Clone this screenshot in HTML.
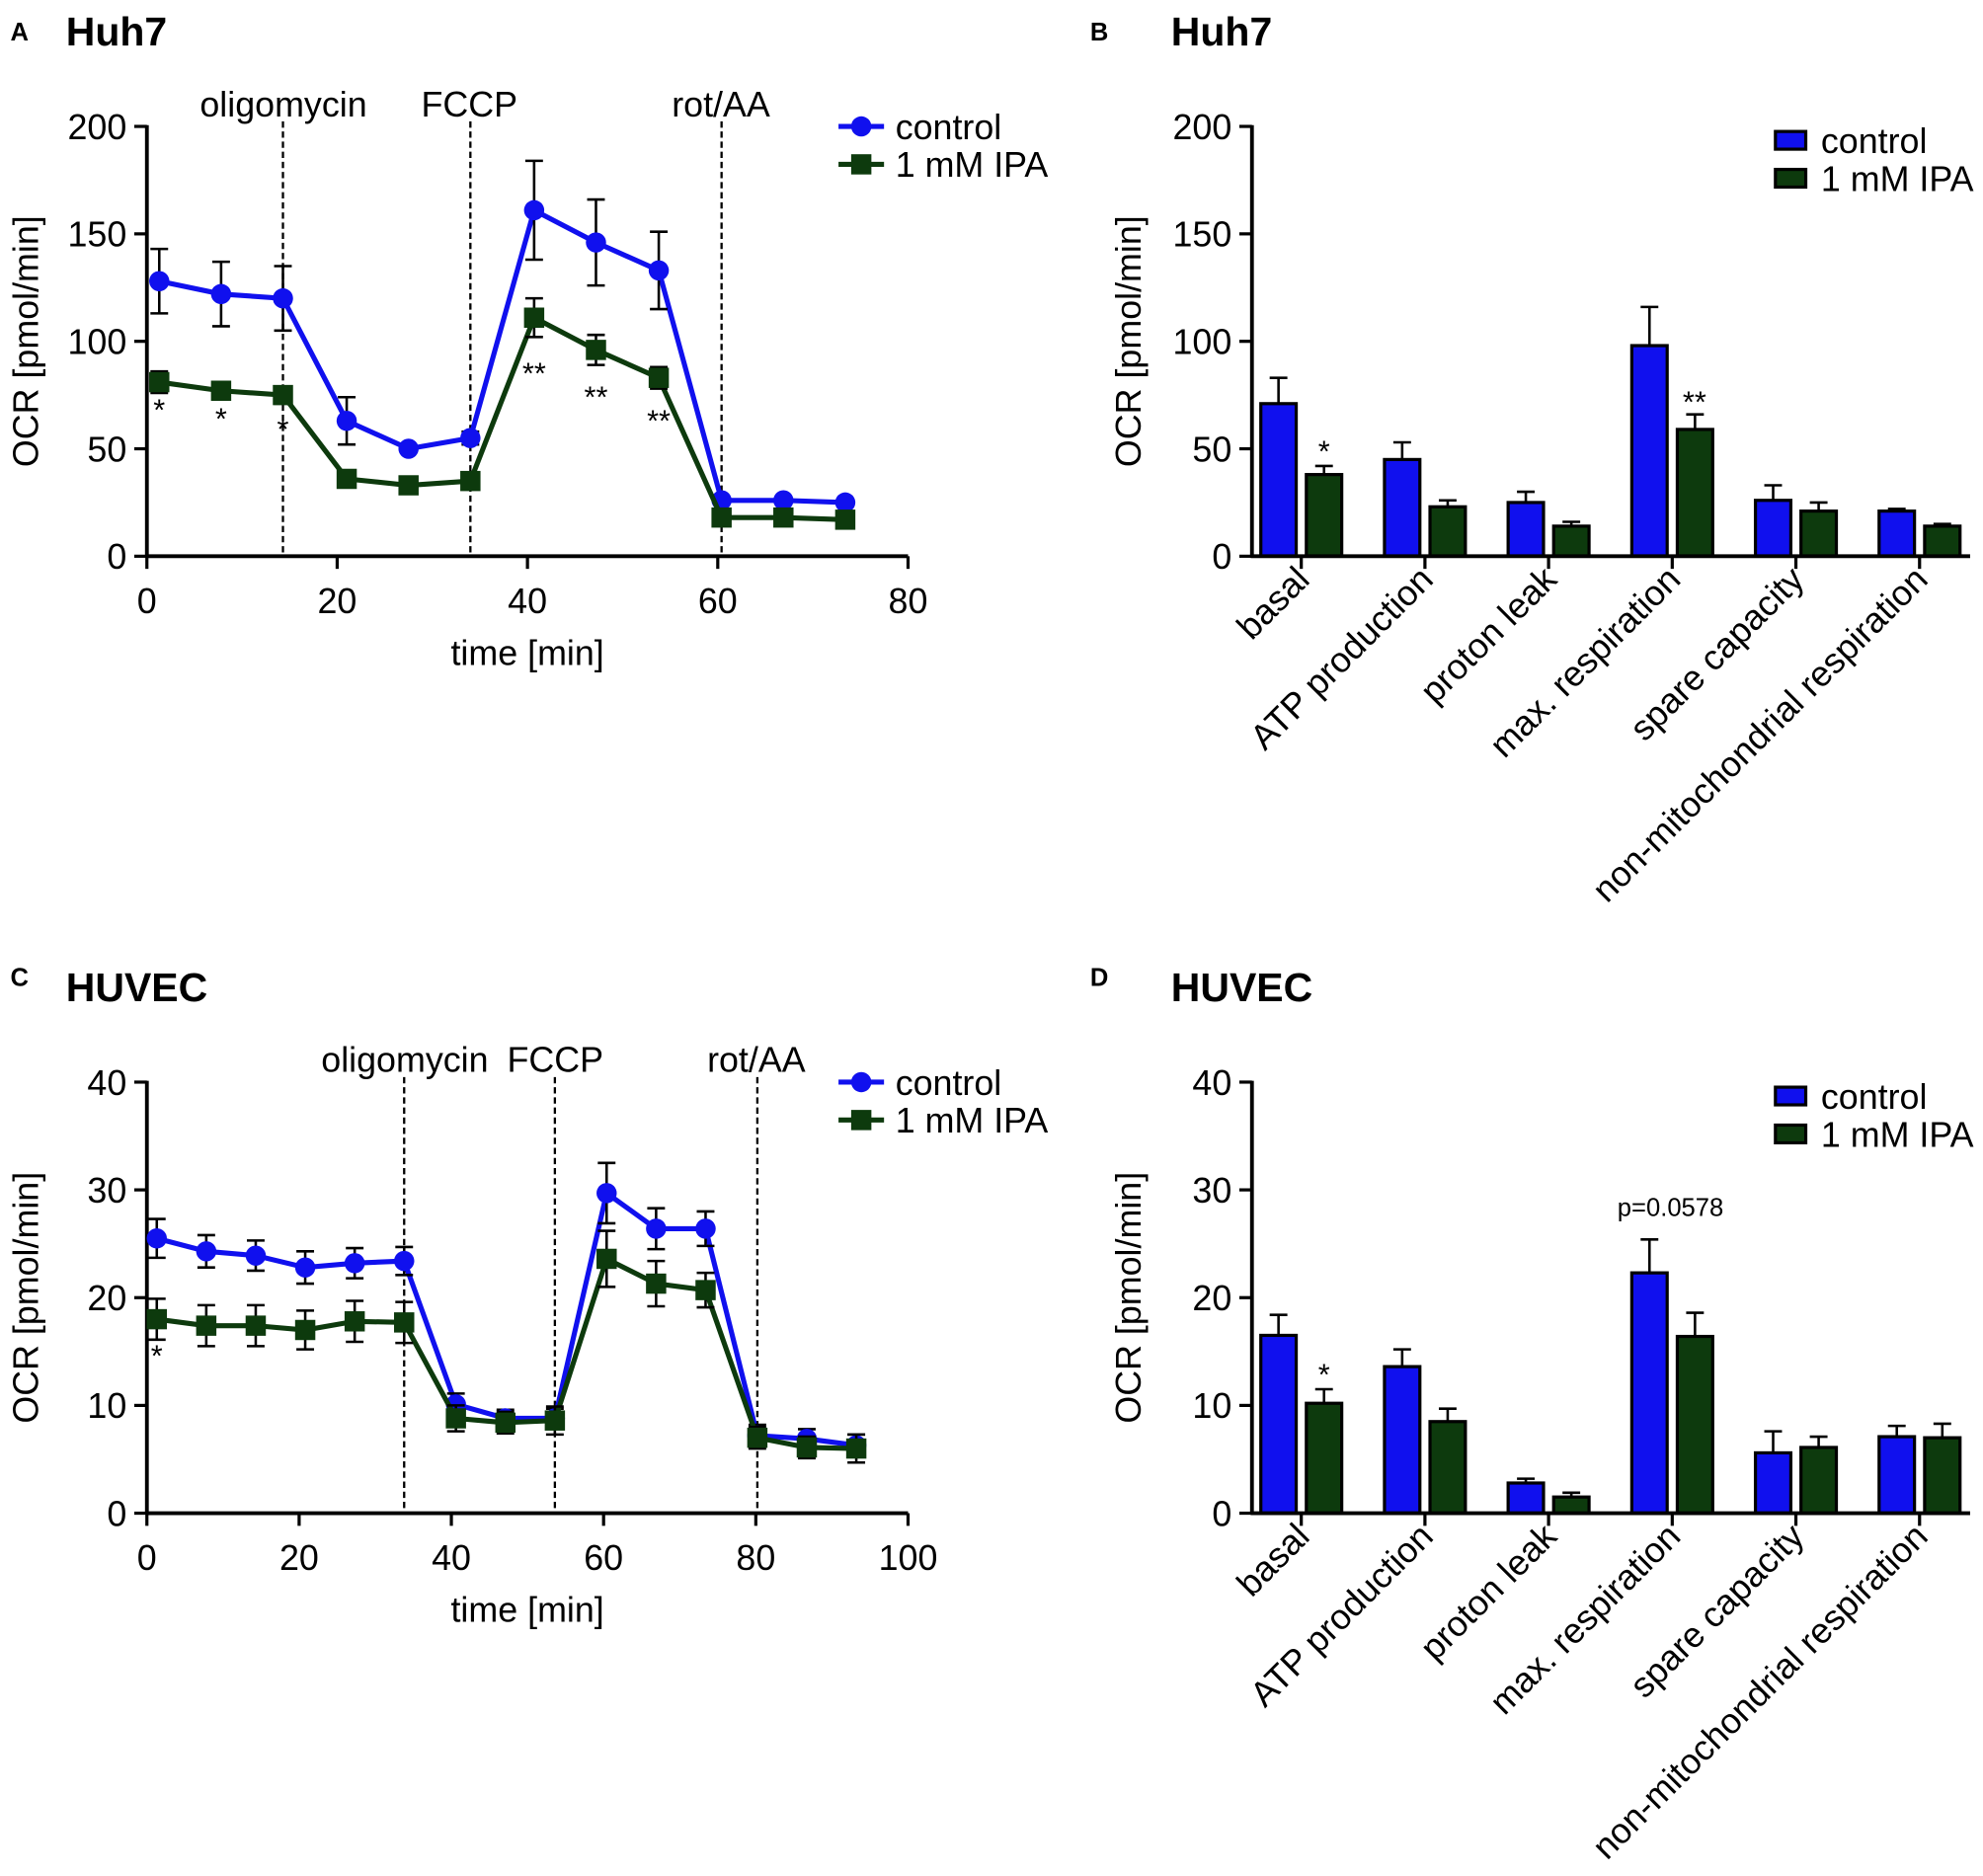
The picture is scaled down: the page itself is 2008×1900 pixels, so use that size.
<!DOCTYPE html>
<html><head><meta charset="utf-8"><style>
html,body{margin:0;padding:0;background:#fff}
svg{display:block}
text{font-family:"Liberation Sans",Arial,sans-serif;fill:#000}
</style></head><body>
<svg id="s" width="2008" height="1900" viewBox="0 0 1568 1484" xmlns="http://www.w3.org/2000/svg"></svg>
<script>
const S=document.getElementById('s');let h='';
const B='#1010ee',G='#0d3a0d';
function t(x,y,s,sz,o=''){h+=`<text x="${x}" y="${y}" font-size="${sz}" ${o}>${s}</text>`;}
function L(x1,y1,x2,y2,c='#000',w=2.5,o=''){h+=`<line x1="${x1}" y1="${y1}" x2="${x2}" y2="${y2}" stroke="${c}" stroke-width="${w}" ${o}/>`;}
t(8,32,'A',20,'font-weight="bold"');t(52,36,'Huh7',32,'font-weight="bold"');
t(862,32,'B',20,'font-weight="bold"');t(926,36,'Huh7',32,'font-weight="bold"');
t(8,780,'C',20,'font-weight="bold"');t(52,792,'HUVEC',32,'font-weight="bold"');
t(862,780,'D',20,'font-weight="bold"');t(926,792,'HUVEC',32,'font-weight="bold"');
const F=28;
function line(cfg){
 const {x0,x1,y0,y1,xmax,ymax,xt,yt,vl,labs,ts,c,g,ce,ge,stars}=cfg;
 const X=v=>x0+(x1-x0)*v/xmax, Y=v=>y0-(y0-y1)*v/ymax;
 yt.forEach(v=>{L(x0-10,Y(v),x0,Y(v));t(x0-16,Y(v)+10,v,F,'text-anchor="end"');});
 xt.forEach(v=>{L(X(v),y0,X(v),y0+10);t(X(v),y0+45,v,F,'text-anchor="middle"');});
 L(x0,y1-1,x0,y0+1,'#000',3);L(x0-1,y0,x1,y0,'#000',3);
 t((x0+x1)/2,y0+86,'time [min]',F,'text-anchor="middle"');
 t(30,(y0+y1)/2,'OCR [pmol/min]',F,`text-anchor="middle" transform="rotate(-90 30 ${(y0+y1)/2})"`);
 vl.forEach((v,i)=>{L(X(v),y1-4,X(v),y0,'#000',1.8,'stroke-dasharray="5,3"');t(labs[i][1],y1-8,labs[i][0],F,'text-anchor="middle"');});
 const pts=(d)=>d.map((v,i)=>X(ts[i])+','+Y(v)).join(' ');
 [[c,ce,B,'c'],[g,ge,G,'s']].forEach(([d,e,col,m])=>{
  h+=`<polyline points="${pts(d)}" fill="none" stroke="${col}" stroke-width="4"/>`;
  d.forEach((v,i)=>{const er=e[i]||0;if(er){const x=X(ts[i]);L(x,Y(v-er),x,Y(v+er),'#000',2);L(x-7,Y(v+er),x+7,Y(v+er),'#000',2);L(x-7,Y(v-er),x+7,Y(v-er),'#000',2);}});
  d.forEach((v,i)=>{const x=X(ts[i]),y=Y(v);h+=m=='c'?`<circle cx="${x}" cy="${y}" r="8" fill="${col}"/>`:`<rect x="${x-8}" y="${y-8}" width="16" height="16" fill="${col}"/>`;});
 });
 stars.forEach(([i,v,s])=>t(X(ts[i]),Y(v)+8,s,24,'text-anchor="middle"'));
 const lx=663,ly=y1;L(lx,ly,lx+36,ly,B,4);h+=`<circle cx="${lx+18}" cy="${ly}" r="8" fill="${B}"/>`;t(lx+45,ly+10,'control',F);
 L(lx,ly+30,lx+36,ly+30,G,4);h+=`<rect x="${lx+10}" y="${ly+22}" width="16" height="16" fill="${G}"/>`;t(lx+45,ly+40,'1 mM IPA',F);
}
line({x0:116,x1:718,y0:440,y1:100,xmax:80,ymax:200,xt:[0,20,40,60,80],yt:[0,50,100,150,200],vl:[14.3,34,60.4],labs:[['oligomycin',224],['FCCP',371],['rot/AA',570]],
 ts:[1.3,7.8,14.3,21,27.5,34,40.7,47.2,53.8,60.4,66.9,73.4],
 c:[128,122,120,63,50,55,161,146,133,26,26,25],ce:[15,15,15,11,0,3,23,20,18,0,0,0],
 g:[81,77,75,36,33,35,111,96,83,18,18,17],ge:[5,4,4,0,0,0,9,7,5,0,0,0],
 stars:[[0,68,'*'],[1,64,'*'],[2,59,'*'],[6,85,'**'],[7,74,'**'],[8,63,'**']]});
line({x0:116,x1:718,y0:1197,y1:856,xmax:100,ymax:40,xt:[0,20,40,60,80,100],yt:[0,10,20,30,40],vl:[33.8,53.6,80.2],labs:[['oligomycin',320],['FCCP',439],['rot/AA',598]],
 ts:[1.3,7.8,14.3,20.8,27.3,33.8,40.6,47.1,53.6,60.4,66.9,73.4,80.2,86.7,93.2],
 c:[25.5,24.3,23.9,22.8,23.2,23.4,10.1,8.8,8.8,29.7,26.4,26.4,7.2,6.9,6.3],ce:[1.8,1.5,1.4,1.5,1.4,1.3,1,0.8,0.9,2.8,1.9,1.6,1,0.9,1],
 g:[18,17.4,17.4,17,17.8,17.7,8.8,8.4,8.6,23.6,21.3,20.7,7,6.1,6],ge:[1.9,1.9,1.9,1.8,1.9,1.9,1.2,1,1.3,2.6,2.1,1.6,1,1,1.3],
 stars:[[0,14.6,'*']]});
function bar(cfg){
 const {x0,x1,y0,y1,ymax,yt,c,g,ce,ge,ann}=cfg;const Y=v=>y0-(y0-y1)*v/ymax;
 yt.forEach(v=>{L(x0-10,Y(v),x0,Y(v));t(x0-16,Y(v)+10,v,F,'text-anchor="end"');});
 t(902,(y0+y1)/2,'OCR [pmol/min]',F,`text-anchor="middle" transform="rotate(-90 902 ${(y0+y1)/2})"`);
 const names=['basal','ATP production','proton leak','max. respiration','spare capacity','non-mitochondrial respiration'];
 for(let i=0;i<6;i++){const cx=1029+i*97.8;
  [[cx-32,c[i],ce[i],B],[cx+4,g[i],ge[i],G]].forEach(([x,v,e,col])=>{
   h+=`<rect x="${x}" y="${Y(v)}" width="28" height="${y0-Y(v)}" fill="${col}" stroke="#000" stroke-width="2.5"/>`;
   L(x+14,Y(v),x+14,Y(v+e),'#000',2);L(x+7,Y(v+e),x+21,Y(v+e),'#000',2);});
  L(cx,y0,cx,y0+10);
  t(cx+8,y0+20,names[i],F,`text-anchor="end" transform="rotate(-45 ${cx+8} ${y0+20})"`);
 }
 L(x0,y1-1,x0,y0+1,'#000',3);L(x0-1,y0,1558,y0,'#000',3);
 ann.forEach(a=>t(a[0],Y(a[1]),a[2],a[3]||24,'text-anchor="middle"'));
 const ly=y1+10;h+=`<rect x="1404" y="${ly-6}" width="24" height="14" fill="${B}" stroke="#000" stroke-width="2.5"/>`;t(1440,ly+11,'control',F);
 h+=`<rect x="1404" y="${ly+24}" width="24" height="14" fill="${G}" stroke="#000" stroke-width="2.5"/>`;t(1440,ly+41,'1 mM IPA',F);
}
bar({x0:990,x1:1558,y0:440,y1:100,ymax:200,yt:[0,50,100,150,200],c:[71,45,25,98,26,21],ce:[12,8,5,18,7,1],g:[38,23,14,59,21,14],ge:[4,3,2,7,4,1],
 ann:[[1047,44,'*'],[1340,67,'**']]});
bar({x0:990,x1:1558,y0:1197,y1:856,ymax:40,yt:[0,10,20,30,40],c:[16.5,13.6,2.8,22.3,5.6,7.1],ce:[1.9,1.6,0.4,3.1,2,1],g:[10.2,8.5,1.5,16.4,6.1,7],ge:[1.3,1.2,0.4,2.2,1,1.3],
 ann:[[1047,11.9,'*'],[1321,27.6,'p=0.0578',20]]});
S.innerHTML=h;
</script>
</body></html>
